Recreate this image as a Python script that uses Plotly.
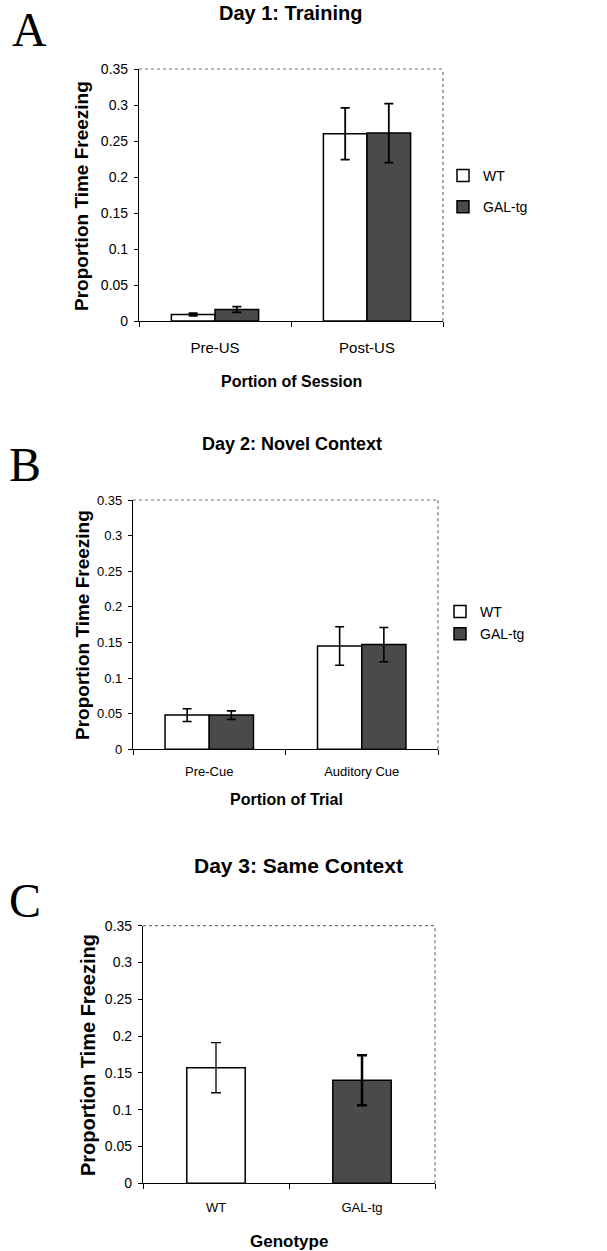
import plotly.graph_objects as go

# ---------------- data ----------------
a_categories = ["Pre-US", "Post-US"]
a_wt = [0.009, 0.260]
a_wt_err = [0.002, 0.036]
a_gal = [0.016, 0.261]
a_gal_err = [0.004, 0.041]

b_categories = ["Pre-Cue", "Auditory Cue"]
b_wt = [0.048, 0.145]
b_wt_err = [0.009, 0.027]
b_gal = [0.048, 0.147]
b_gal_err = [0.006, 0.024]

c_categories = ["WT", "GAL-tg"]
c_values = [0.157, 0.140]
c_err = [0.034, 0.034]

y_ticks = [0, 0.05, 0.1, 0.15, 0.2, 0.25, 0.3, 0.35]
y_ticklabels = ["0", "0.05", "0.1", "0.15", "0.2", "0.25", "0.3", "0.35"]

# ---------------- style ----------------
W, H = 607, 1251
WT_COLOR = "#ffffff"
GAL_COLOR = "#4a4a4a"
SANS = "Arial, Liberation Sans, sans-serif"
SERIF = "Times New Roman, Liberation Serif, serif"


def px_x(v):
    return v / W


def px_y(v):
    return 1 - v / H


fig = go.Figure()

# Panel A
bw_a = 0.287
fig.add_trace(go.Bar(x=a_categories, y=a_wt, name="WT", xaxis="x", yaxis="y",
                     marker=dict(color=WT_COLOR, line=dict(color="black", width=1.5)),
                     width=bw_a, offset=-bw_a,
                     error_y=dict(type="data", array=a_wt_err, color="black", thickness=1.8, width=4.5),
                     legend="legend", legendgroup="a_wt"))
fig.add_trace(go.Bar(x=a_categories, y=a_gal, name="GAL-tg", xaxis="x", yaxis="y",
                     marker=dict(color=GAL_COLOR, line=dict(color="black", width=1.5)),
                     width=bw_a, offset=0,
                     error_y=dict(type="data", array=a_gal_err, color="black", thickness=1.8, width=4.5),
                     legend="legend", legendgroup="a_gal"))

# Panel B
bw_b = 0.29
fig.add_trace(go.Bar(x=b_categories, y=b_wt, name="WT", xaxis="x2", yaxis="y2",
                     marker=dict(color=WT_COLOR, line=dict(color="black", width=1.5)),
                     width=bw_b, offset=-bw_b,
                     error_y=dict(type="data", array=b_wt_err, color="black", thickness=1.6, width=4.5),
                     legend="legend2", legendgroup="b_wt"))
fig.add_trace(go.Bar(x=b_categories, y=b_gal, name="GAL-tg", xaxis="x2", yaxis="y2",
                     marker=dict(color=GAL_COLOR, line=dict(color="black", width=1.5)),
                     width=bw_b, offset=0,
                     error_y=dict(type="data", array=b_gal_err, color="black", thickness=1.6, width=4.5),
                     legend="legend2", legendgroup="b_gal"))

# Panel C
bw_c = 0.40
fig.add_trace(go.Bar(x=[c_categories[0]], y=[c_values[0]], xaxis="x3", yaxis="y3",
                     marker=dict(color=WT_COLOR, line=dict(color="black", width=1.5)),
                     width=bw_c, offset=-bw_c / 2, showlegend=False,
                     error_y=dict(type="data", array=[c_err[0]], color="black", thickness=1.3, width=5)))
fig.add_trace(go.Bar(x=[c_categories[1]], y=[c_values[1]], xaxis="x3", yaxis="y3",
                     marker=dict(color=GAL_COLOR, line=dict(color="black", width=1.5)),
                     width=bw_c, offset=-bw_c / 2, showlegend=False,
                     error_y=dict(type="data", array=[c_err[1]], color="black", thickness=2.5, width=5)))

panels = [
    # (suffix, left, right, top, bottom, ticksize, xticksize, xlabel standoff)
    ("", 139, 443, 69, 321, 14, 15, 13),
    ("2", 133, 438, 500, 749.3, 13, 13, 10),
    ("3", 143, 435, 925.7, 1183.3, 14, 13, 12),
]

layout = dict(
    width=W, height=H, autosize=False,
    margin=dict(l=0, r=0, t=0, b=0, pad=0, autoexpand=False),
    paper_bgcolor="white", plot_bgcolor="white",
    showlegend=True,
    font=dict(family=SANS, color="black"),
)

shapes = []
for suf, l, r, t, b, tsz, xtsz, xstand in panels:
    layout["xaxis" + suf] = dict(
        domain=[px_x(l), px_x(r)], anchor="y" + suf, type="category",
        showline=True, linecolor="black", linewidth=1.2,
        ticks="outside", ticklen=5, tickcolor="black", tickson="boundaries",
        showgrid=False, zeroline=False, range=[-0.5, 1.5],
        tickfont=dict(family=SANS, size=xtsz, color="black"),
        ticklabelstandoff=xstand, automargin=False,
        fixedrange=True,
    )
    layout["yaxis" + suf] = dict(
        domain=[px_y(b), px_y(t)], anchor="x" + suf, range=[0, 0.35],
        tickvals=y_ticks, ticktext=y_ticklabels,
        showline=True, linecolor="black", linewidth=1.2,
        ticks="outside", ticklen=4, tickcolor="black",
        showgrid=False, zeroline=False,
        tickfont=dict(family=SANS, size=tsz, color="black"),
        ticklabelstandoff=3, automargin=False,
        fixedrange=True,
    )
    xd = "x" + suf + " domain"
    yd = "y" + suf + " domain"
    shapes.append(dict(type="line", xref=xd, yref=yd, x0=0, x1=1, y0=1, y1=1,
                       line=dict(color="#707070", width=1.2, dash="dot"), layer="below"))
    shapes.append(dict(type="line", xref=xd, yref=yd, x0=1, x1=1, y0=0, y1=1,
                       line=dict(color="#707070", width=1.2, dash="dot"), layer="below"))

layout["shapes"] = shapes

layout["legend"] = dict(
    x=px_x(443), y=px_y(160), xanchor="left", yanchor="top",
    font=dict(family=SANS, size=14, color="black"),
    bgcolor="rgba(0,0,0,0)", traceorder="grouped", tracegroupgap=10,
)
layout["legend2"] = dict(
    x=px_x(440), y=px_y(596), xanchor="left", yanchor="top",
    font=dict(family=SANS, size=14, color="black"),
    bgcolor="rgba(0,0,0,0)", traceorder="grouped", tracegroupgap=1,
)


def ann(text, x, y, size, family=SANS, bold=False, angle=0):
    t = "<b>" + text + "</b>" if bold else text
    return dict(text=t, x=px_x(x), y=px_y(y), xref="paper", yref="paper",
                xanchor="center", yanchor="middle", showarrow=False, textangle=angle,
                font=dict(family=family, size=size, color="black"))


annotations = [
    ann("A", 29, 29, 48, SERIF),
    ann("B", 25, 464, 48, SERIF),
    ann("C", 25, 900, 48, SERIF),
    ann("Day 1: Training", 290, 13, 20, bold=True),
    ann("Day 2: Novel Context", 292, 444, 18, bold=True),
    ann("Day 3: Same Context", 298, 866, 21, bold=True),
    ann("Proportion Time Freezing", 82, 196, 19, bold=True, angle=-90),
    ann("Proportion Time Freezing", 82, 625, 19, bold=True, angle=-90),
    ann("Proportion Time Freezing", 88, 1055, 20, bold=True, angle=-90),
    ann("Portion of Session", 291, 382, 16, bold=True),
    ann("Portion of Trial", 286, 800, 16, bold=True),
    ann("Genotype", 289, 1241, 17, bold=True),
]
layout["annotations"] = annotations

fig.update_layout(**layout)

post = (
    "document.documentElement.style.margin='0';"
    "document.documentElement.style.padding='0';"
    "document.documentElement.style.overflow='hidden';"
    "document.body.style.margin='0';"
    "document.body.style.padding='0';"
    "document.body.style.overflow='hidden';"
    "document.body.style.height='1251px';"
    "var gd=document.getElementById('{plot_id}');"
    "gd.style.position='absolute';gd.style.top='0px';gd.style.left='0px';"
)
fig.write_html("out.html", config={"displayModeBar": False}, post_script=post)
